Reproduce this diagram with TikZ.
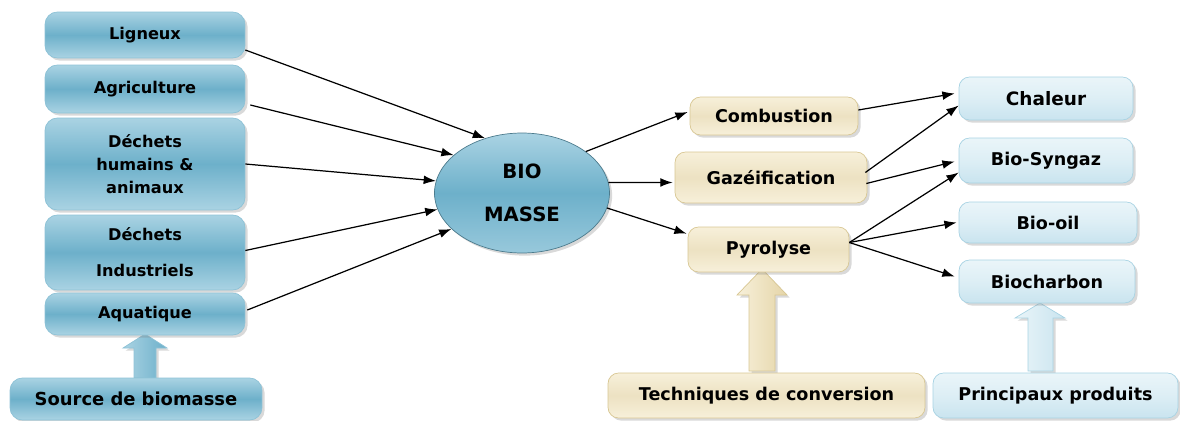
\documentclass[tikz,border=0pt]{standalone}
\usepackage{fontspec}
\setmainfont{DejaVu Sans}
\usetikzlibrary{shapes.geometric,shadows,arrows.meta,calc}
\definecolor{bleu}{HTML}{6DB0CA}
\definecolor{bleuclair}{HTML}{AAD3E3}
\definecolor{bleubord}{HTML}{8DC2D6}
\definecolor{ciel}{HTML}{EAF5F9}
\definecolor{cielfonce}{HTML}{C9E4EF}
\definecolor{cielbord}{HTML}{A8D3E3}
\definecolor{sable}{HTML}{F7F0DA}
\definecolor{sablefonce}{HTML}{E5D5A8}
\definecolor{sablebord}{HTML}{D8C793}

\begin{document}
\begin{tikzpicture}[x=0.02cm,y=-0.02cm]
\tikzstyle{every node}+=[inner sep=0pt]
\tikzstyle{ombre}=[drop shadow={shadow xshift=1.5pt,shadow yshift=-1.5pt,opacity=0.3}]
\tikzstyle{source}=[rectangle, rounded corners=7pt, draw=bleubord, top color=bleuclair, bottom color=bleuclair, middle color=bleu, ombre, align=center, minimum width=4cm, font=\fontsize{9.2}{13}\selectfont\bfseries]
\tikzstyle{procede}=[rectangle, rounded corners=6pt, draw=sablebord, top color=sable, bottom color=sable, middle color=sablefonce!70, ombre, font=\fontsize{10}{12}\selectfont\bfseries]
\tikzstyle{produit}=[rectangle, rounded corners=6pt, draw=cielbord, top color=ciel, bottom color=cielfonce, middle color=ciel!60!cielfonce, ombre, font=\fontsize{10}{12}\selectfont\bfseries]
\tikzstyle{fleche}=[line width=0.7pt, -{Latex[length=7pt,width=5pt]}]
\tikzstyle{grossefleche}=[draw=#1bord, left color=#1, right color=#1fonce, ombre]
\useasboundingbox (0,0) rectangle (1180,420);

\draw[grossefleche=ciel, left color=bleuclair, right color=bleu, draw=bleubord] (134,378) -- (134,348) -- (123,348) -- (145,334) -- (167,348) -- (156,348) -- (156,378) -- cycle;
\draw[grossefleche=sable] (749,371) -- (749,295) -- (737,295) -- (762,269) -- (787,295) -- (775,295) -- (775,371) -- cycle;
\draw[grossefleche=ciel] (1028,371) -- (1028,318) -- (1015,318) -- (1040,303) -- (1065,318) -- (1053,318) -- (1053,371) -- cycle;

\node[source, minimum height=0.92cm] (lig) at (145,35) {Ligneux};
\node[source, minimum height=0.96cm] (agr) at (145,89) {Agriculture};
\node[source, minimum height=1.84cm] (dhum) at (145,164) {Déchets\\humains \&\\animaux};
\node[source, minimum height=1.5cm] (dind) at (145,252.5) {Déchets\\[7.5pt]Industriels};
\node[source, minimum height=0.84cm] (aqu) at (145,314) {Aquatique};
\node[source, minimum width=5.04cm, minimum height=0.84cm, font=\fontsize{10.2}{12}\selectfont\bfseries] (src) at (136,399) {Source de biomasse};

\node[ellipse, draw=bleu!70!black, top color=bleuclair, bottom color=bleuclair!70!bleu, middle color=bleu, ombre, minimum width=3.5cm, minimum height=2.4cm, align=center, font=\fontsize{11.2}{13.5}\selectfont\bfseries] (bio) at (522,193) {BIO\\[11pt]MASSE};

\node[procede, minimum width=3.36cm, minimum height=0.76cm] (comb) at (774,116) {Combustion};
\node[procede, minimum width=3.84cm, minimum height=1.02cm] (gaz) at (771,177.5) {Gazéification};
\node[procede, minimum width=3.22cm, minimum height=0.9cm] (pyr) at (768.5,249.5) {Pyrolyse};
\node[procede, minimum width=6.34cm, minimum height=0.9cm] (tech) at (766.5,395.5) {Techniques de conversion};

\node[produit, minimum width=3.48cm, minimum height=0.86cm, font=\fontsize{10.5}{12}\selectfont\bfseries] (chal) at (1046,98.5) {Chaleur};
\node[produit, minimum width=3.48cm, minimum height=0.9cm] (syn) at (1046,160.5) {Bio-Syngaz};
\node[produit, minimum width=3.56cm, minimum height=0.82cm] (oil) at (1048,222.5) {Bio-oil};
\node[produit, minimum width=3.52cm, minimum height=0.86cm] (bch) at (1047,281.5) {Biocharbon};
\node[produit, minimum width=4.9cm, minimum height=0.9cm] (prod) at (1055.5,395.5) {Principaux produits};

\draw[fleche] ($(lig.east)+(0,15)$) -- (bio.124);
\draw[fleche] ($(agr.east)+(5,16)$) -- (bio.151);
\draw[fleche] (dhum.east) -- (bio.172);
\draw[fleche] ($(dind.east)+(0,-2)$) -- (bio.191);
\draw[fleche] ($(aqu.east)+(2,-4)$) -- (bio.207);

\draw[fleche] (bio.33) -- ($(comb.west)+(-2,-4)$);
\draw[fleche] (bio.7) -- ($(gaz.west)+(-2,5)$);
\draw[fleche] (bio.-10) -- ($(pyr.north west)+(-1,7)$);

\draw[fleche] ($(comb.east)+(0,-6)$) -- ($(chal.west)+(-4,-5)$);
\draw[fleche] ($(gaz.east)+(-2,-5)$) -- ($(chal.west)+(0,7)$);
\draw[fleche] ($(gaz.east)+(-1,6)$) -- ($(syn.west)+(-4,1)$);
\draw[fleche] ($(pyr.east)+(0,-7)$) -- ($(syn.west)+(0,12)$);
\draw[fleche] ($(pyr.east)+(0,-7)$) -- ($(oil.west)+(-2,0)$);
\draw[fleche] ($(pyr.east)+(0,-7)$) -- ($(bch.west)+(-4,-5)$);
\end{tikzpicture}
\end{document}
